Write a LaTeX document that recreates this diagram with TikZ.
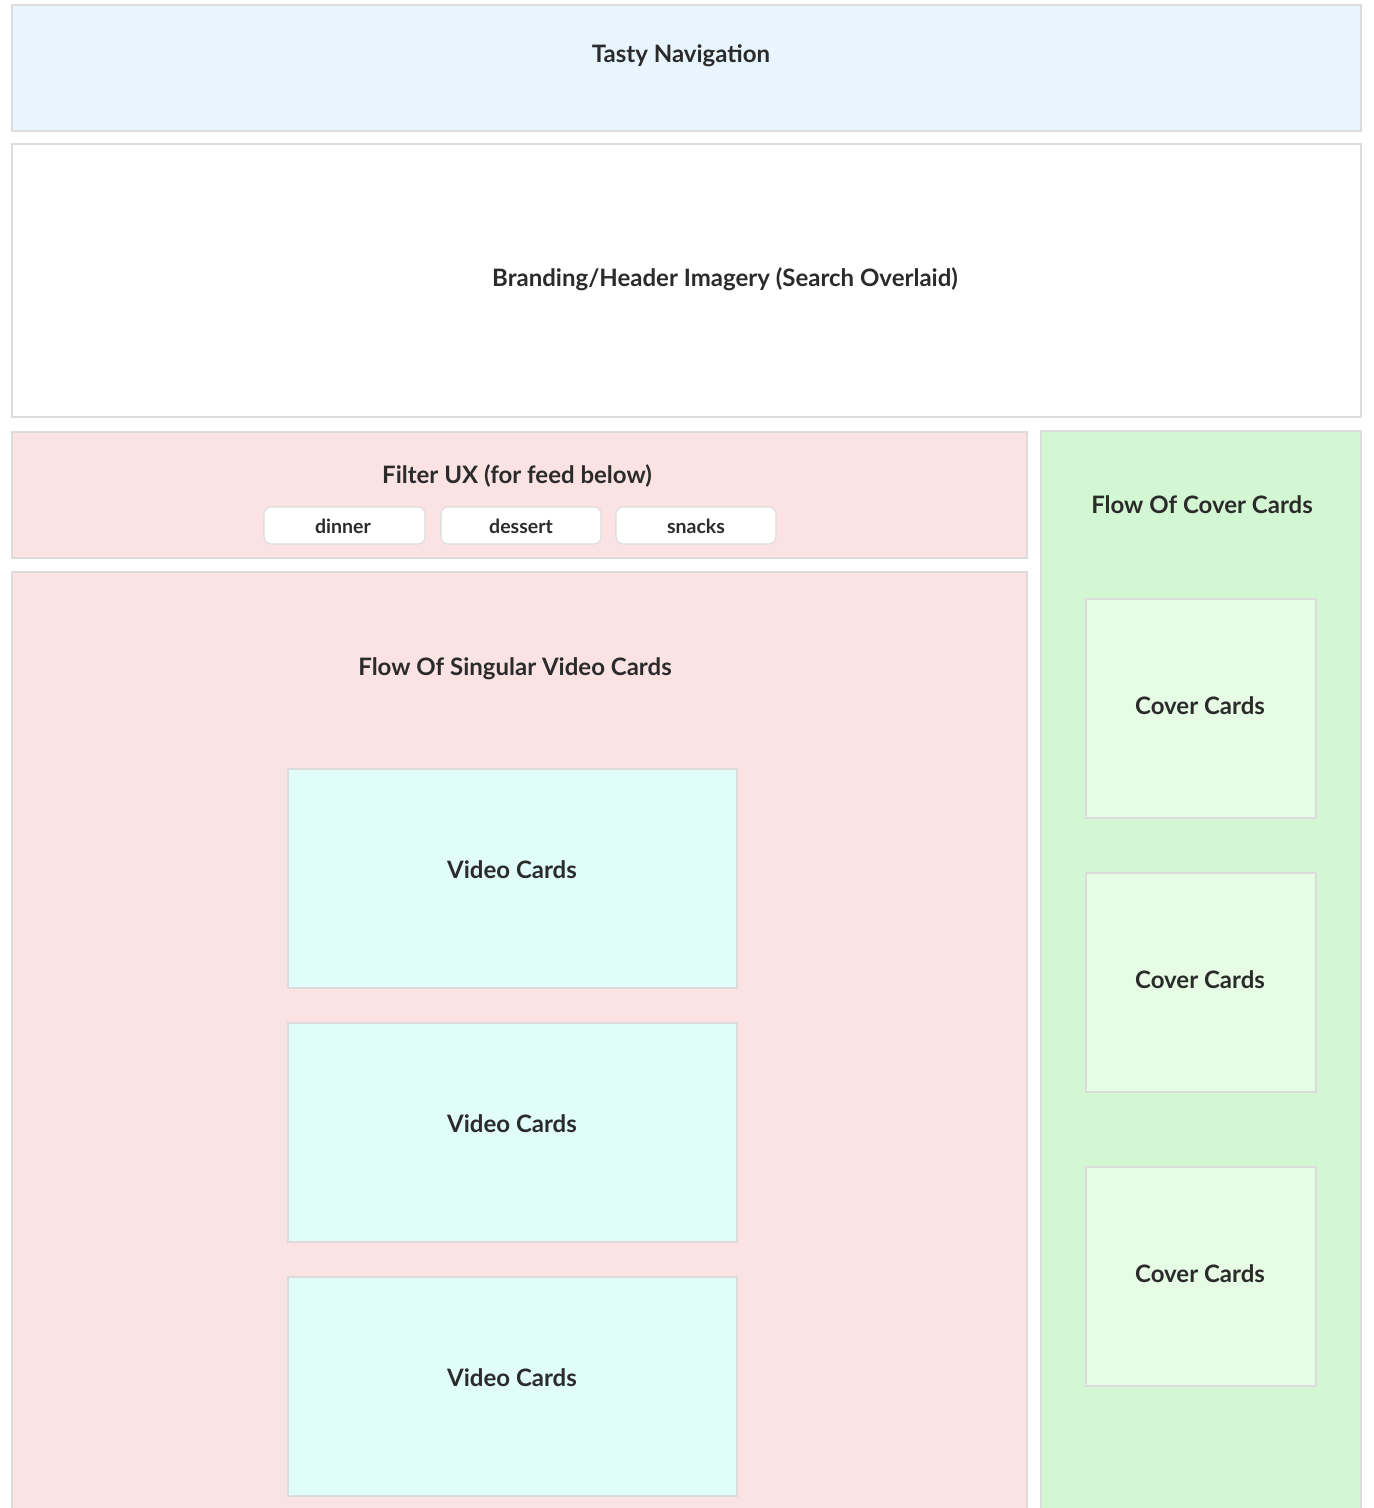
\documentclass[tikz,border=0pt]{standalone}
\usepackage{fontspec}
\setmainfont{Lato}
\begin{document}
\begin{tikzpicture}[x=1pt,y=-1pt,
  panel/.style={draw=edgegray,line width=1.1pt},
  lbl/.style={font=\bfseries\fontsize{24}{28}\selectfont,text=ink},
  chip/.style={draw=edgegray,line width=1.1pt,fill=white,rounded corners=7pt},
  chiplbl/.style={font=\bfseries\fontsize{19.5}{22}\selectfont,text=ink}]
\definecolor{edgegray}{HTML}{DCDCDC}
\definecolor{ink}{HTML}{2B2B2B}
\definecolor{navblue}{HTML}{E8F5FE}
\definecolor{pinkbg}{HTML}{FBE3E3}
\definecolor{cyancard}{HTML}{E0FDFA}
\definecolor{greenbg}{HTML}{D3F7D3}
\definecolor{greencard}{HTML}{E6FCE4}
\useasboundingbox (0,0) rectangle (1374,1508);
\fill[white] (0,0) rectangle (1374,1508);

% top bar and header
\draw[panel,fill=navblue] (12,5) rectangle (1361,131);
\node[lbl] (nav) at (681,56) {Tasty Navigation};
\draw[panel,fill=white] (12,144) rectangle (1361,417);
\node[lbl] (brand) at (725,279) {Branding/Header Imagery (Search Overlaid)};

% filter strip with chips
\draw[panel,fill=pinkbg] (12,432) rectangle (1027,558);
\node[lbl] (filter) at (517,476) {Filter UX (for feed below)};
\draw[chip] (264,507) rectangle (425,544);
\node[chiplbl] (dinner) at (343,526) {dinner};
\draw[chip] (441,507) rectangle (601,544);
\node[chiplbl] (dessert) at (521,526) {dessert};
\draw[chip] (616,507) rectangle (776,544);
\node[chiplbl] (snacks) at (696,526) {snacks};

% main feed
\draw[panel,fill=pinkbg] (12,1510) -- (12,572) -- (1027,572) -- (1027,1510);
\node[lbl] (feed) at (515,669) {Flow Of Singular Video Cards};
\foreach \y/\n in {769/v1,1023/v2,1277/v3}{
  \draw[panel,fill=cyancard] (288,\y) rectangle (737,\y+219);
  \node[lbl] (\n) at (512,\y+101) {Video Cards};
}

% side column
\draw[panel,fill=greenbg] (1041,1510) -- (1041,431) -- (1361,431) -- (1361,1510);
\node[lbl] (side) at (1202,505) {Flow Of Cover Cards};
\foreach \y/\n in {599/c1,873/c2,1167/c3}{
  \draw[panel,fill=greencard] (1086,\y) rectangle (1316,\y+219);
  \node[lbl] (\n) at (1200,\y+107) {Cover Cards};
}
\end{tikzpicture}
\end{document}
